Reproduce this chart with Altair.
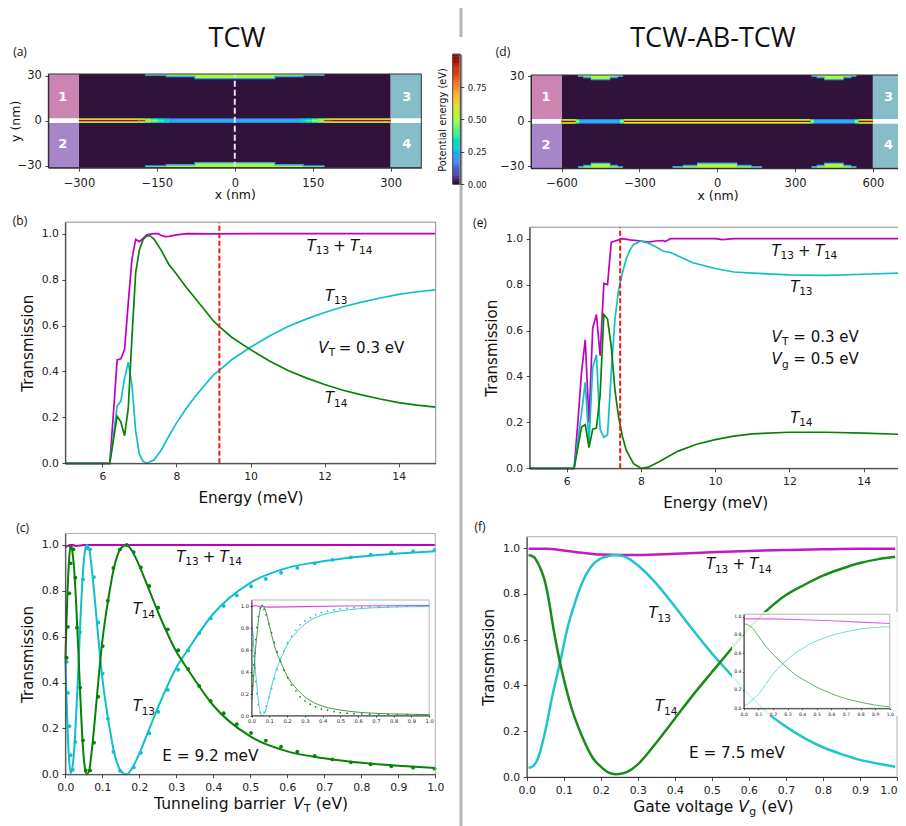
import altair as alt
import pandas as pd

W, H = 890, 818
MAGENTA, CYAN, GREEN = "#bf00bf", "#10c0c8", "#078207"
TURBO = ["#30123b","#4145ab","#4675ed","#39a2fc","#1bcfd4","#24eca6","#61fc6c","#a4fc3b",
         "#d1e834","#f3c63a","#fe9b2d","#f36315","#d93806","#b11901","#7a0402"]

# ---------- panel (b)
b_E = [5,6.2,6.3,6.4,6.5,6.6,6.7,6.8,6.9,7.0,7.1,7.2,7.3,7.4,7.5,7.6,7.7,7.8,8,8.3,9,10,12,15]
b_sum = [0,0,.22,.45,.455,.495,.70,.89,.975,.965,.98,.995,.998,1,1,.992,.987,.988,.995,1,.999,1,1,1]
b_E13 = [5,6.2,6.3,6.4,6.5,6.6,6.7,6.8,6.9,7.0,7.1,7.2,7.4,7.6,7.8,8,8.25,8.5,9,9.16,9.5,10,10.5,11,11.5,12,12.5,13,13.5,14,14.5,15]
b_T13 = [0,0,.12,.25,.27,.37,.44,.34,.14,.04,.008,0,.015,.06,.12,.175,.235,.29,.385,.405,.452,.505,.553,.595,.628,.657,.682,.702,.72,.736,.747,.755]
b_E14 = [5,6.2,6.4,6.5,6.6,6.7,6.8,6.9,7.0,7.1,7.2,7.3,7.4,7.5,7.6,7.7,7.8,7.9,8,8.25,8.5,9,9.16,9.5,10,10.5,11,11.5,12,12.5,13,13.5,14,14.5,15]
b_T14 = [0,0,.205,.18,.12,.24,.55,.83,.93,.975,.99,.99,.975,.95,.925,.895,.865,.845,.824,.77,.72,.62,.595,.548,.495,.447,.405,.372,.343,.318,.298,.28,.264,.253,.245]
# ---------- panel (e)
e_Es = [5,6.2,6.3,6.4,6.5,6.6,6.7,6.8,6.9,7.0,7.1,7.2,7.3,7.4,7.5,7.7,8.0,8.2,8.4,8.6,8.65,8.8,10,10.2,10.5,15]
e_sum = [0,0,.2,.42,.56,.2,.61,.67,.49,.805,.80,.985,.99,.995,1,.995,.99,.985,.99,.992,.988,1,1,.996,1,1]
e_E = [5,6.2,6.4,6.5,6.6,6.7,6.8,6.9,7.0,7.1,7.2,7.3,7.4,7.5,7.6,7.7,7.8,8.0,8.2,8.4,8.6,8.8,9,9.4,10,10.5,11,12,13,14,15]
e_T13 = [0,0,.24,.375,.11,.44,.495,.17,.135,.145,.42,.65,.78,.85,.91,.95,.975,.99,.98,.965,.945,.94,.925,.895,.87,.855,.85,.842,.84,.845,.85]
e_E14 = [5,6.2,6.4,6.5,6.6,6.7,6.8,6.9,7.0,7.1,7.2,7.3,7.4,7.5,7.6,7.7,7.8,8,8.2,8.5,9,9.5,10,10.5,11,12,13,14,15]
e_T14 = [0,0,.18,.19,.09,.17,.175,.32,.67,.65,.53,.34,.22,.14,.08,.05,.02,0,.005,.03,.075,.105,.125,.14,.15,.157,.157,.153,.148]
# ---------- panel (c)
c_V = [0,.002,.005,.01,.0144,.02,.025,.03,.035,.04,.045,.05,.055,.058,.065,.07,.08,.09,.1,.11,.12,.13,.14,.15,.166,.18,.2,.22,.25,.3,.33,.4,.5,.6,.7,.8,.9,1]
c_T14 = [.5,.6,.75,.93,.995,.96,.87,.72,.55,.36,.19,.07,.01,0,.02,.08,.24,.42,.58,.70,.80,.89,.95,.985,1,.975,.91,.83,.71,.535,.46,.30,.165,.10,.07,.05,.037,.027]
c_T13 = [.5,.4,.25,.07,.005,.04,.13,.28,.45,.64,.81,.93,.99,1,.98,.92,.76,.58,.42,.30,.20,.11,.05,.015,0,.025,.09,.17,.29,.465,.54,.70,.835,.90,.93,.95,.963,.973]
c_Vs = [0,.005,.012,.02,.03,.05,.1,1]
c_sum = [.99,.995,1,1,.996,1,1,1]
c_dV14 = [.0036,.007,.011,.0144,.015,.022,.027,.0315,.04,.048,.055,.067,.0775,.089,.101,.115,.13,.148,.166,.185,.204,.227,.251,.277,.305,.332,.362,.393,.428,.4635,.502,.542,.583,.627,.674,.722,.772,.825,.881,.94,.998]
c_dT14 = [.508,.643,.789,.92,.993,.981,.857,.639,.378,.148,.017,.017,.138,.338,.559,.757,.90,.981,1,.969,.902,.821,.726,.632,.541,.459,.385,.32,.266,.219,.18,.147,.12,.099,.08,.065,.052,.044,.035,.029,.025]
c_dV13 = [.0036,.007,.011,.0144,.02,.027,.04,.048,.058,.067,.0775,.089,.101,.115,.13,.148,.185,.204,.227,.251,.277,.305,.332,.362,.393,.428,.4635,.502,.542,.583,.627,.674,.722,.772,.825,.881,.94,.998]
c_dT13 = [.49,.355,.21,.083,.02,.141,.62,.85,.985,.98,.86,.662,.44,.243,.098,.015,.03,.094,.179,.273,.368,.456,.54,.615,.68,.734,.78,.82,.852,.879,.90,.92,.935,.946,.958,.967,.972,.978]
# inset of (c)
ci_V = [0,.005,.01,.015,.02,.03,.04,.05,.06,.07,.08,.1,.12,.14,.166,.2,.25,.3,.4,.5,.6,.7,.8,.9,1]
ci_T14 = [.14,.2,.3,.42,.55,.72,.88,.97,1,.99,.95,.82,.69,.58,.48,.36,.25,.17,.085,.05,.03,.02,.014,.011,.008]
ci_T13 = [.86,.8,.7,.58,.45,.28,.12,.03,0,.01,.05,.18,.31,.42,.52,.64,.75,.83,.915,.95,.97,.98,.986,.989,.992]
ci_Vs = [0,.02,.05,.1,.3,.5,1]
ci_sum = [.99,1,.99,.985,.99,.995,1]
ci_dV = [.0,.002,.006,.009,.013,.019,.024,.03,.038,.049,.06,.071,.083,.098,.113,.128,.145,.163,.182,.203,.226,.25,.274,.301,.331,.361,.393,.428,.464,.499,.538,.577,.62,.665,.716,.769,.82,.876,.932,.998]
ci_dT14 = [.155,.2,.27,.36,.46,.57,.69,.80,.90,.977,1,.967,.915,.833,.754,.663,.578,.49,.413,.343,.277,.225,.17,.134,.103,.079,.058,.049,.036,.027,.021,.018,.015,.012,.009,.009,.008,.007,.006,.006]
ci_dT13 = [.85,.79,.73,.64,.54,.43,.31,.20,.10,.025,0,.03,.085,.165,.245,.335,.42,.51,.585,.66,.72,.775,.825,.86,.89,.915,.935,.95,.96,.97,.975,.98,.985,.988,.99,.99,.992,.993,.994,.995]
# ---------- panel (f)
f_V14 = [.005,.02,.03,.04,.05,.06,.07,.08,.09,.1,.12,.15,.18,.2,.22,.24,.26,.28,.3,.35,.4,.45,.5,.55,.6,.65,.7,.75,.8,.85,.9,.95,.995]
f_T14 = [.97,.96,.935,.90,.85,.77,.67,.58,.50,.43,.307,.176,.08,.045,.02,.012,.016,.03,.055,.15,.255,.36,.458,.555,.65,.73,.795,.84,.88,.91,.935,.952,.962]
f_V13 = [.005,.015,.03,.05,.07,.09,.11,.13,.15,.17,.2,.22,.24,.26,.28,.3,.35,.4,.45,.5,.55,.6,.65,.7,.75,.8,.85,.9,.95,.995]
f_T13 = [.04,.045,.08,.2,.36,.50,.65,.76,.85,.91,.955,.965,.97,.965,.95,.925,.845,.745,.64,.54,.45,.36,.28,.22,.17,.13,.10,.075,.058,.045]
f_Vs = [.005,.05,.1,.15,.2,.25,.3,.4,.5,.6,.7,.8,.9,.995]
f_sum = [.997,.997,.99,.98,.972,.97,.97,.975,.982,.988,.992,.995,.997,.997]
fi_V = [0,.02,.05,.1,.15,.2,.25,.3,.35,.4,.45,.5,.55,.6,.65,.7,.75,.8,.85,.9,.95,1]
fi_T14 = [.92,.915,.89,.79,.68,.59,.51,.44,.37,.32,.275,.23,.195,.16,.13,.105,.085,.065,.05,.035,.025,.015]
fi_T13 = [.035,.04,.08,.15,.26,.37,.46,.53,.60,.65,.70,.735,.765,.795,.815,.835,.85,.865,.875,.88,.885,.89]
fi_Vs = [0,.2,.4,.6,.8,1]
fi_sum = [.975,.975,.965,.955,.94,.925]
# ---------- potential maps
GATE_H_A = [173,133,78]
GATE_H_D = [87,67,38]
GATE_RIM = [1.3,2.1,3.5]
GATE_FILL = [.6,1.1,2.7]
a_edges = [-300,-185,-172,-160,-148,-136,-124,124,136,148,160,172,185,300]
a_outer = [.47,.44,.36,.3,.25,.2,.14,.2,.25,.3,.36,.44,.47]
a_mid = [.64,.6,.5,.4,.33,.27,.2,.27,.33,.4,.5,.6,.64]
a_core = [.95,.88,.66,.5,.4,.33,.28,.33,.4,.5,.66,.88,.95]
d_edges = [-600,-545,-530,-375,-360,360,375,530,545,600]
d_outer = [.48,.3,.14,.3,.48,.3,.14,.3,.48]
d_mid = [.6,.42,.2,.42,.6,.42,.2,.42,.6]
d_core = [.97,.55,.3,.55,.97,.55,.3,.55,.97]
cb_levels = [i / 60 for i in range(60)]

def P(v):
    return v - 8

PANELS = {
 "a": dict(xd=[-359,359], yd=[-31.3,31], l=48.3, r=421.3, b=167.7, t=74),
 "d": dict(xd=[-718,720], yd=[-31.3,31], l=531, r=904, b=168.3, t=75),
 "b": dict(xd=[5,15], yd=[0,1.05], l=65.3, r=435.7, b=463.3, t=222.2),
 "e": dict(xd=[5,15], yd=[0,1.05], l=529.6, r=900.8, b=468.3, t=227.2),
 "c": dict(xd=[0,1], yd=[0,1.05], l=65.3, r=435.3, b=774.3, t=533.5),
 "f": dict(xd=[0,1], yd=[0,1.05], l=526.7, r=897, b=777, t=536.7),
 "ci": dict(xd=[0,1], yd=[0,1.05], l=251.5, r=429.2, b=715.5, t=600),
 "fi": dict(xd=[0,1], yd=[0,1.025], l=743.7, r=889.8, b=708.3, t=614.3),
 "cb": dict(xd=[0,1], yd=[0,1.005], l=452.7, r=460.3, b=184.3, t=54),
}

def xe(p, axis=None, f="x"):
    s = PANELS[p]
    return alt.X(f"{f}:Q", scale=alt.Scale(domain=s["xd"], range=[P(s["l"]), P(s["r"])], nice=False, zero=False), axis=axis, title=None)

def ye(p, axis=None, f="y"):
    s = PANELS[p]
    return alt.Y(f"{f}:Q", scale=alt.Scale(domain=s["yd"], range=[P(s["b"]), P(s["t"])], nice=False, zero=False), axis=axis, title=None)

L = []

def line(p, xs, ys, color, w, interp="linear", op=1.0):
    L.append(alt.Chart(pd.DataFrame({"x": xs, "y": ys})).mark_line(color=color, strokeWidth=w, interpolate=interp, opacity=op, clip=False).encode(x=xe(p), y=ye(p)))

def dots(p, xs, ys, color, size):
    L.append(alt.Chart(pd.DataFrame({"x": xs, "y": ys})).mark_circle(color=color, size=size, opacity=1).encode(x=xe(p), y=ye(p)))

def rule(p, x, color, w, dash):
    s = PANELS[p]
    df = pd.DataFrame({"x": [x], "y": [s["yd"][0]], "y2": [s["yd"][1]]})
    L.append(alt.Chart(df).mark_rule(color=color, strokeWidth=w, strokeDash=dash).encode(x=xe(p), y=ye(p), y2="y2:Q"))

def rich(p, x, y, pieces, size=15, color="#111111"):
    for txt, italic, dx, sub in pieces:
        kw = dict(fontStyle="italic") if italic else {}
        L.append(alt.Chart(pd.DataFrame({"x": [x], "y": [y], "t": [txt]})).mark_text(
            align="left", baseline="alphabetic", dx=dx, dy=3.5 if sub else 0,
            fontSize=size * .7 if sub else size, font="DejaVu Sans", color=color, **kw
        ).encode(x=xe(p), y=ye(p), text="t:N"))

def page_text(px, py, txt, size, font="Open Sans", color="#111111", angle=0, align="center"):
    kw = dict(angle=angle) if angle else {}
    L.append(alt.Chart(pd.DataFrame({"t": [txt]})).mark_text(
        align=align, baseline="middle", fontSize=size, font=font, color=color, **kw
    ).encode(x=alt.value(P(px)), y=alt.value(P(py)), text="t:N"))

def axis(orient, values, px, fmt, size, title=None, tsize=15, tpad=8, tick=3.5, flush_last=False, labpad=None):
    if orient == "bottom":
        off = P(px) - H
    elif orient == "left":
        off = -P(px)
    else:
        off = P(px) - W
    kw = dict(title=title)
    if title:
        kw.update(titleFontSize=tsize, titlePadding=tpad, titleFontWeight="normal", titleColor="#111111", titleFont="DejaVu Sans")
    if flush_last:
        kw["labelAlign"] = {"expr": "datum.value === 1 ? 'right' : 'center'"}
    return alt.Axis(orient=orient, values=values, offset=off, format=fmt, labelFontSize=size, labelFont="DejaVu Sans",
                    labelColor="#222222", grid=False, domainColor="#222222", domainWidth=.9, tickColor="#222222",
                    tickWidth=.8, tickSize=tick, labelPadding=labpad if labpad is not None else max(1.5, tick),
                    labelOverlap=False, labelFlush=False, zindex=1, **kw)

def box(p, xax=None, yax=None, stroke="#8c8c8c", w=1):
    s = PANELS[p]
    df = pd.DataFrame({"x": [s["xd"][0]], "x2": [s["xd"][1]], "y": [s["yd"][0]], "y2": [s["yd"][1]]})
    L.append(alt.Chart(df).mark_rect(fillOpacity=0, stroke=stroke, strokeWidth=w).encode(
        x=xe(p, xax), x2="x2:Q", y=ye(p, yax), y2="y2:Q"))

def cells(p, rows):
    df = pd.DataFrame(rows, columns=["x", "x2", "y", "y2", "v"])
    L.append(alt.Chart(df).mark_rect(strokeWidth=0).encode(
        x=xe(p), x2="x2:Q", y=ye(p), y2="y2:Q",
        color=alt.Color("v:Q", scale=alt.Scale(domain=[0, 1], range=TURBO), legend=None)))

def flat(p, rows):
    df = pd.DataFrame(rows, columns=["x", "x2", "y", "y2", "c"])
    L.append(alt.Chart(df).mark_rect(strokeWidth=0).encode(
        x=xe(p), x2="x2:Q", y=ye(p), y2="y2:Q", color=alt.Color("c:N", scale=None, legend=None)))

def gate_rows(xc, halves, side):
    rows = []
    for h, rim in zip(halves, GATE_RIM):
        rows.append((xc - h, xc + h, side * (31 - rim), side * 31, .2))
    for h, fil, v in zip(halves, GATE_FILL, [.44, .5, .5]):
        rows.append((xc - h + 2, xc + h - 2, side * (31 - fil), side * 31, v))
    return rows

def barrier_rows(edges, outer, mid, core):
    rows = []
    for i in range(len(edges) - 1):
        rows.append((edges[i], edges[i + 1], -1.6, 1.6, outer[i]))
        rows.append((edges[i], edges[i + 1], -1.0, 1.0, mid[i]))
        rows.append((edges[i], edges[i + 1], -.45, .45, core[i]))
    return rows

def map_panel(p, lead, edges, outer, mid, core, gates, nums):
    s = PANELS[p]
    x0, x1 = s["xd"]
    rows = [(-lead, lead, -31.3, 31, 0)]
    for xc, halves, side in gates:
        rows += gate_rows(xc, halves, side)
    rows += barrier_rows(edges, outer, mid, core)
    cells(p, rows)
    flat(p, [(x0, -lead, 1.55, 31, "#cc85b3"), (x0, -lead, -31.3, -1.55, "#a686c9"),
             (lead, x1, 1.55, 31, "#87bdc9"), (lead, x1, -31.3, -1.55, "#87bdc9")])
    for n, xn, yn in nums:
        L.append(alt.Chart(pd.DataFrame({"x": [xn], "y": [yn], "t": [n]})).mark_text(
            align="center", baseline="middle", fontSize=13, fontWeight="bold", font="DejaVu Sans", color="white"
        ).encode(x=xe(p), y=ye(p), text="t:N"))

# ---------- panels (a), (d)
map_panel("a", 300, a_edges, a_outer, a_mid, a_core,
          [(0, GATE_H_A, 1), (0, GATE_H_A, -1)],
          [("1", -331, 16), ("2", -331, -15.5), ("3", 331, 16), ("4", 331, -15.5)])
rule("a", 0, "#e8e0ee", 2, [6, 3])
box("a", axis("bottom", [-300,-150,0,150,300], 167.7, "d", 11.5, "x (nm)", 12.5, 0, labpad=6),
    axis("left", [-30,0,30], 48.3, "d", 11.5, "y (nm)", 12.5, -5), "#333333", 1)
map_panel("d", 600, d_edges, d_outer, d_mid, d_core,
          [(-450, GATE_H_D, 1), (450, GATE_H_D, 1), (-450, GATE_H_D, -1), (450, GATE_H_D, -1), (0, GATE_H_A, -1)],
          [("1", -660, 16), ("2", -660, -15.5), ("3", 660, 16), ("4", 660, -15.5)])
box("d", axis("bottom", [-600,-300,0,300,600], 168.3, "d", 11.5, "x (nm)", 12.5, 0, labpad=6),
    axis("left", [-30,0,30], 531, "d", 11.5, title=None), "#333333", 1)

# ---------- colour bar
cells("cb", [(0, 1, v, v + 1 / 60 + .002, v) for v in cb_levels])
box("cb", None, axis("right", [0,.25,.5,.75], 460.3, ".2f", 8.5), "#222222", .8)
page_text(442.7, 120, "Potential energy (eV)", 9.8, "DejaVu Sans", angle=270)

# ---------- panel (b)
line("b", b_E, b_sum, MAGENTA, 1.7)
line("b", b_E13, b_T13, CYAN, 1.7)
line("b", b_E14, b_T14, GREEN, 1.7)
rule("b", 9.16, "#f01818", 2, [5, 2.5])
box("b", axis("bottom", [6,8,10,12,14], 463.3, "d", 10.8, "Energy (meV)", 15.3, 9),
    axis("left", [0,.2,.4,.6,.8,1], 65.3, ".1f", 10.8, "Transmission", 15, 6))
SUM_LABEL = [("T", True, 0, False), ("13", False, 9, True), ("+", False, 26.5, False), ("T", True, 43.3, False), ("14", False, 52.3, True)]
rich("b", 11.52, .926, SUM_LABEL)
rich("b", 12.01, .707, [("T", True, 0, False), ("13", False, 9, True)])
rich("b", 12.01, .261, [("T", True, 0, False), ("14", False, 9, True)])
rich("b", 11.83, .482, [("V", True, 0, False), ("T", False, 10.5, True), ("= 0.3 eV", False, 20.5, False)])

# ---------- panel (e)
line("e", e_Es, e_sum, MAGENTA, 1.7)
line("e", e_E, e_T13, CYAN, 1.7)
line("e", e_E14, e_T14, GREEN, 1.7)
rule("e", 7.44, "#f01818", 2, [5, 2.5])
box("e", axis("bottom", [6,8,10,12,14], 468.3, "d", 10.8, "Energy (meV)", 15.3, 9),
    axis("left", [0,.2,.4,.6,.8,1], 529.6, ".1f", 10.8, "Transmission", 15, 6))
rich("e", 11.52, .926, SUM_LABEL)
rich("e", 12.02, .769, [("T", True, 0, False), ("13", False, 9, True)])
rich("e", 12.02, .199, [("T", True, 0, False), ("14", False, 9, True)])
rich("e", 11.52, .551, [("V", True, 0, False), ("T", False, 10.5, True), ("= 0.3 eV", False, 21.7, False)])
rich("e", 11.52, .454, [("V", True, 0, False), ("g", False, 10.5, True), ("= 0.5 eV", False, 21.7, False)])

# ---------- panel (c)
TEN = [0,.1,.2,.3,.4,.5,.6,.7,.8,.9,1]
FIVE = [0,.2,.4,.6,.8,1]
dots("c", c_dV13, c_dT13, CYAN, 15)
dots("c", c_dV14, c_dT14, GREEN, 15)
line("c", c_Vs, c_sum, MAGENTA, 2)
line("c", c_V, c_T13, CYAN, 2, "monotone")
line("c", c_V, c_T14, GREEN, 2, "monotone")
box("c", axis("bottom", TEN, 774.3, ".1f", 10.8), axis("left", FIVE, 65.3, ".1f", 10.8, "Transmission", 15, 6), "#b0b0b0")
rich("c", .30, .927, SUM_LABEL)
rich("c", .182, .698, [("T", True, 0, False), ("14", False, 9, True)])
rich("c", .182, .276, [("T", True, 0, False), ("13", False, 9, True)])
rich("c", .262, .06, [("E = 9.2 meV", False, 0, False)], 15.3)
rich("c", .24, -.151, [("Tunneling barrier", False, 0, False), ("V", True, 139, False), ("T", False, 150, True), ("(eV)", False, 161.7, False)], 15.5)

dots("ci", ci_dV, ci_dT13, CYAN, 3)
dots("ci", ci_dV, ci_dT14, GREEN, 3)
line("ci", ci_Vs, ci_sum, "#dd44dd", 1.1)
line("ci", ci_V, ci_T13, "#30c8d0", .9, "monotone")
line("ci", ci_V, ci_T14, "#2a8f2a", .9, "monotone")
box("ci", axis("bottom", TEN, 715.5, ".1f", 5.2, tick=1.5), axis("left", FIVE, 251.5, ".1f", 5.2, tick=1.5), "#b5b5b5")

# ---------- panel (f)
line("f", f_Vs, f_sum, "#c518c5", 2.5, "monotone")
line("f", f_V13, f_T13, "#20c4cc", 2.5, "monotone")
line("f", f_V14, f_T14, "#188c18", 2.5, "monotone")
box("f", axis("bottom", TEN, 777, ".1f", 10.8, flush_last=True), axis("left", FIVE, 526.7, ".1f", 10.8, "Transmission", 15, 6), "#b0b0b0")
rich("f", .484, .908, SUM_LABEL)
rich("f", .329, .693, [("T", True, 0, False), ("13", False, 9, True)])
rich("f", .3465, .288, [("T", True, 0, False), ("14", False, 9, True)])
rich("f", .438, .084, [("E = 7.5 meV", False, 0, False)], 15.3)
rich("f", .288, -.152, [("Gate voltage", False, 0, False), ("V", True, 105, False), ("g", False, 116, True), ("(eV)", False, 128, False)], 15.5)

L.append(alt.Chart(pd.DataFrame({"x": [-.08], "x2": [1.057], "y": [-.084], "y2": [1.05]})).mark_rect(
    color="white", opacity=.85, strokeWidth=0).encode(x=xe("fi"), x2="x2:Q", y=ye("fi"), y2="y2:Q"))
line("fi", fi_Vs, fi_sum, "#dd66dd", 1.1)
line("fi", fi_V, fi_T13, "#60d4da", .9, "monotone")
line("fi", fi_V, fi_T14, "#50a850", .9, "monotone")
box("fi", axis("bottom", TEN, 708.3, ".1f", 4.6, tick=1.2), axis("left", FIVE, 743.7, ".1f", 4.6, tick=1.2), "#b5b5b5")

# ---------- page furniture
page_text(237, 39, "TCW", 27)
page_text(713, 39, "TCW-AB-TCW", 27)
for letter, px, py in [("(a)", 20, 52), ("(b)", 20, 220.7), ("(c)", 22.7, 528), ("(d)", 503, 52), ("(e)", 480, 223), ("(f)", 480, 527)]:
    page_text(px, py, letter, 12)
for y0, y1 in [(8, 37), (55, 826)]:
    L.append(alt.Chart(pd.DataFrame({"t": [0]})).mark_rule(color="#b4b4b4", strokeWidth=3).encode(
        x=alt.value(P(461)), y=alt.value(P(y0)), y2=alt.value(P(y1))))

chart = alt.layer(*L).resolve_scale(x="independent", y="independent").properties(
    width=W, height=H, padding=0, autosize=alt.AutoSizeParams(type="none")
).configure_view(stroke=None)

chart.save("out.html", embed_options={"renderer": "svg", "actions": False})
